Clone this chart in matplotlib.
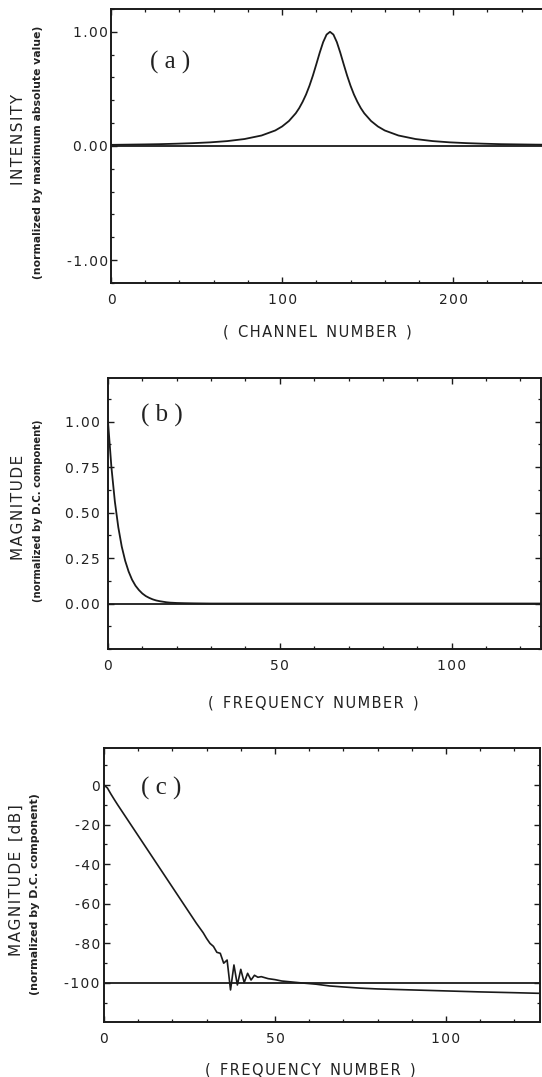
import matplotlib
matplotlib.use("Agg")
import matplotlib.pyplot as plt
from matplotlib.ticker import MultipleLocator, FuncFormatter

plt.rcParams['axes.unicode_minus'] = False
plt.rcParams['font.family'] = ['DejaVu Sans']

# ---------------- data ----------------
# (a) spectrum: intensity vs channel number
chan_a = [0, 10, 20, 28, 38, 48, 58, 68, 78, 88, 96, 100, 104, 108, 110, 112,
          114, 116, 118, 120, 122, 124, 126, 128, 130, 132, 134, 136, 138, 140,
          142, 144, 146, 148, 152, 156, 160, 168, 178, 188, 198, 208, 218, 228,
          238, 248, 256]
inten_a = [0.010, 0.012, 0.014, 0.016, 0.020, 0.025, 0.032, 0.043, 0.061, 0.092,
           0.136, 0.171, 0.219, 0.287, 0.332, 0.387, 0.451, 0.528, 0.617, 0.716,
           0.818, 0.910, 0.976, 1.000, 0.976, 0.910, 0.818, 0.716, 0.617, 0.528,
           0.451, 0.387, 0.332, 0.287, 0.219, 0.171, 0.136, 0.092, 0.061, 0.043,
           0.032, 0.025, 0.020, 0.016, 0.014, 0.012, 0.011]

# (b) magnitude (linear) vs frequency number
freq_b = [0, 1, 2, 3, 4, 5, 6, 7, 8, 9, 10, 11, 12, 13, 14, 15, 16, 17, 18,
          19, 20, 22, 25, 30, 126]
mag_b = [1.000, 0.748, 0.560, 0.419, 0.313, 0.235, 0.176, 0.131, 0.098, 0.074,
         0.055, 0.041, 0.031, 0.023, 0.017, 0.013, 0.010, 0.007, 0.005, 0.004,
         0.003, 0.002, 0.001, 0.000, 0.000]

# (c) magnitude in dB vs frequency number
freq_c = [0, 1, 2, 3, 4, 5, 6, 7, 8, 9, 10, 11, 12, 13, 14, 15, 16, 17, 18, 19,
          20, 21, 22, 23, 24, 25, 26, 27, 28, 29, 30, 31, 32, 33, 34, 35, 36, 37,
          38, 39, 40, 41, 42, 43, 44, 45, 46, 47, 48, 50, 52, 55, 58, 62, 66, 70,
          75, 80, 90, 100, 110, 120, 127]
db_c = [0.0, -1.5, -4.5, -7.3, -10.0, -12.6, -15.2, -17.8, -20.4, -23.0, -25.6,
        -28.2, -30.8, -33.4, -36.0, -38.6, -41.2, -43.8, -46.4, -49.0, -51.6,
        -54.2, -56.8, -59.4, -62.0, -64.6, -67.2, -69.8, -72.2, -74.6, -77.5,
        -80.0, -81.5, -84.5, -85.0, -90.0, -88.4, -103.5, -90.9, -101.0,
        -93.1, -99.8, -95.1, -98.5, -96.1, -97.1, -96.8, -97.3, -97.8, -98.3,
        -99.0, -99.5, -100.0, -100.6, -101.5, -102.0, -102.6, -103.0, -103.5,
        -104.0, -104.5, -104.9, -105.2]

# ---------------- layout ----------------
W, H = 542, 1077
fig = plt.figure(figsize=(W / 100, H / 100), dpi=100)

HS = '\u200a'


def spaced(s):
    return '  '.join(HS.join(w) for w in s.split(' '))


def rect(left, right, top, bottom):
    return [left / W, 1 - bottom / H, (right - left) / W, (bottom - top) / H]


def fx(x):
    return x / W


def fy(y):
    return 1 - y / H


LC = '#1a1a1a'
TC = '#222222'


def style(ax, ypad, xpad=7):
    for s in ax.spines.values():
        s.set_linewidth(1.4)
        s.set_color(LC)
    ax.tick_params(which='both', direction='in', top=True, right=True, colors=LC,
                   labelcolor=TC, labelsize=10)
    ax.tick_params(which='major', length=4, width=1.0)
    ax.tick_params(which='minor', length=2.5, width=0.9)
    ax.tick_params(axis='y', pad=ypad)
    ax.tick_params(axis='x', pad=xpad)


def fmt(pattern):
    return FuncFormatter(lambda v, p: HS.join(pattern.format(v)))


lab_kw = dict(rotation=90, ha='center', va='center', fontsize=11, color=TC)
xl_kw = dict(ha='center', va='center', fontsize=10.5, color=TC)
let_kw = dict(ha='center', va='center', fontsize=18, family='Liberation Serif',
              color=TC)


def small(x, y, s, size):
    fig.text(fx(x), fy(y), s, rotation=90, ha='center', va='center',
             fontsize=size, fontweight='bold', color=TC)


# (a)
ax1 = fig.add_axes(rect(111, 549, 9, 283))
ax1.plot(chan_a, inten_a, color=LC, lw=1.3)
ax1.axhline(0, color=LC, lw=1.3)
ax1.set_xlim(0, 256)
ax1.set_ylim(-1.2, 1.2)
ax1.xaxis.set_major_locator(MultipleLocator(100))
ax1.xaxis.set_minor_locator(MultipleLocator(20))
ax1.yaxis.set_major_locator(MultipleLocator(1.0))
ax1.yaxis.set_minor_locator(MultipleLocator(0.2))
ax1.yaxis.set_major_formatter(fmt('{:.2f}'))
ax1.xaxis.set_major_formatter(fmt('{:.0f}'))
style(ax1, ypad=2)
fig.text(fx(170), fy(62), '( a )', **let_kw)
fig.text(fx(19), fy(139), spaced('INTENSITY'), **lab_kw)
small(38, 152, '(normalized by maximum absolute value)', 7.8)
fig.text(fx(317), fy(332), spaced('( CHANNEL NUMBER )'), **xl_kw)

# (b)
ax2 = fig.add_axes(rect(108, 541, 378, 649))
ax2.plot(freq_b, mag_b, color=LC, lw=1.3)
ax2.axhline(0, color=LC, lw=1.3)
ax2.set_xlim(0, 126)
ax2.set_ylim(-0.25, 1.24)
ax2.xaxis.set_major_locator(MultipleLocator(50))
ax2.xaxis.set_minor_locator(MultipleLocator(10))
ax2.set_yticks([0, 0.25, 0.5, 0.75, 1.0])
ax2.yaxis.set_minor_locator(MultipleLocator(0.125))
ax2.yaxis.set_major_formatter(fmt('{:.2f}'))
ax2.xaxis.set_major_formatter(fmt('{:.0f}'))
style(ax2, ypad=6)
fig.text(fx(162), fy(415), '( b )', **let_kw)
fig.text(fx(19), fy(507), spaced('MAGNITUDE'), **lab_kw)
small(38, 511, '(normalized by D.C. component)', 7.2)
fig.text(fx(313), fy(703), spaced('( FREQUENCY NUMBER )'), **xl_kw)

# (c)
ax3 = fig.add_axes(rect(104, 540, 748, 1022))
ax3.plot(freq_c, db_c, color=LC, lw=1.2)
ax3.axhline(-100, color=LC, lw=1.3)
ax3.set_xlim(0, 127.5)
ax3.set_ylim(-119.7, 18.7)
ax3.xaxis.set_major_locator(MultipleLocator(50))
ax3.xaxis.set_minor_locator(MultipleLocator(10))
ax3.set_yticks([0, -20, -40, -60, -80, -100])
ax3.yaxis.set_minor_locator(MultipleLocator(10))
ax3.yaxis.set_major_formatter(fmt('{:.0f}'))
ax3.xaxis.set_major_formatter(fmt('{:.0f}'))
style(ax3, ypad=3)
fig.text(fx(161), fy(788), '( c )', **let_kw)
fig.text(fx(16), fy(880), spaced('MAGNITUDE [dB]'), **lab_kw)
small(35, 894, '(normalized by D.C. component)', 8.0)
fig.text(fx(310), fy(1070), spaced('( FREQUENCY NUMBER )'), **xl_kw)

fig.savefig('out.png', dpi=100, facecolor='white')
